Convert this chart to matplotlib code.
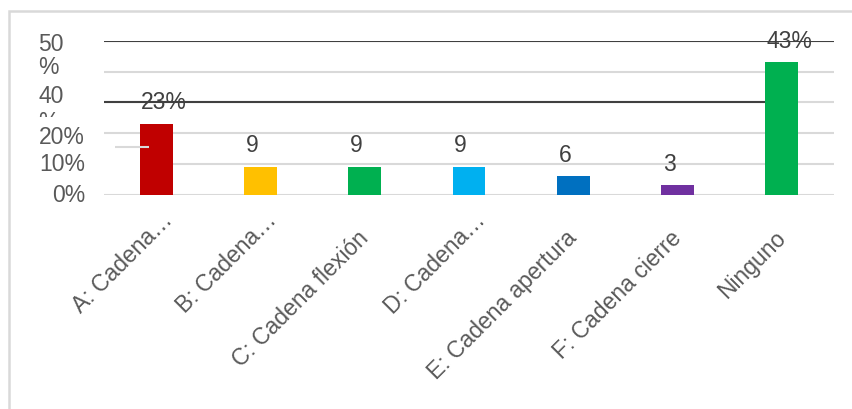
import numpy as np
import matplotlib

matplotlib.use("Agg")
import matplotlib.pyplot as plt
from matplotlib.patches import Rectangle
from matplotlib.transforms import (
    Bbox,
    TransformedBbox,
    ScaledTranslation,
    blended_transform_factory,
)

plt.rcParams["font.family"] = ["Liberation Sans", "DejaVu Sans"]

# Survey answers (percent of respondents)
categories = [
    "A: Cadena…",
    "B: Cadena…",
    "C: Cadena flexión",
    "D: Cadena…",
    "E: Cadena apertura",
    "F: Cadena cierre",
    "Ninguno",
]
values = [23, 9, 9, 9, 6, 3, 43]
value_labels = ["23%", "9", "9", "9", "6", "3", "43%"]
colors = ["#C00000", "#FFC000", "#00B050", "#00B0F0", "#0070C0", "#7030A0", "#00B050"]
grid_levels = [0, 10, 20, 30, 40, 50]
dark_levels = [30, 50]

GRID = "#D9D9D9"
DARK = "#404040"
TEXT = "#595959"
FS = 16.5
PX = 0.72  # points per pixel at 100 dpi

fig = plt.figure(figsize=(8.52, 4.09), dpi=100)
ax = fig.add_axes([104 / 852, 214.5 / 409, 730 / 852, 153.5 / 409])
ax.set_xlim(-0.5, 6.5)
ax.set_ylim(0, 50)
ax.set_xticks([])
ax.set_yticks([])
for s in ax.spines.values():
    s.set_visible(False)

x = np.arange(len(categories))
bar_w = 0.316
ax.bar(x, values, width=bar_w, color=colors, zorder=3)

# light gridlines (the 10% one is broken on the left)
for lv in grid_levels:
    start = bar_w / 2 if lv == 10 else -0.5
    ax.hlines(lv, start, 6.5, color=GRID, lw=1.5, zorder=1)
ax.hlines(15.45, -0.395, -0.068, color=GRID, lw=1.5, zorder=4)

# dark lines at 30% and 50%
for lv in dark_levels:
    end = 6.5 if lv == 50 else x[-1] - bar_w / 2
    ax.hlines(lv, -0.51, end, color=DARK, lw=1.5, zorder=2)

# value labels above the bars
for xi, v, lbl in zip(x, values, value_labels):
    dx = 8 if lbl.endswith("%") else -8.5
    ax.annotate(lbl, (xi, v), xytext=(dx * PX, 14.5 * PX), textcoords="offset points",
                ha="center", va="baseline", fontsize=FS, color=DARK, zorder=5)

# y axis labels, some wrapped onto two lines
ytr = blended_transform_factory(ax.transAxes, ax.transData)
for txt, yv in [("50", 46.6), ("%", 39.1), ("40", 29.8)]:
    ax.text(-0.0904, yv, txt, transform=ytr, ha="left", va="baseline",
            fontsize=FS, color=TEXT)
pct = ax.text(-0.0904, 21.2, "%", transform=ytr, ha="left", va="baseline",
              fontsize=FS, color=TEXT, clip_on=True)
pct.set_clip_box(TransformedBbox(Bbox.from_extents(-0.2, 25.2, 0, 40), ytr))
for txt, yv in [("20%", 16.3), ("10%", 7.5), ("0%", -2.3)]:
    ax.text(-0.026, yv, txt, transform=ytr, ha="right", va="baseline",
            fontsize=FS, color=TEXT)

# rotated category labels, anchored at the end of their baseline
for xi, lbl in zip(x, categories):
    dx, dy = (17.5, -26.5) if lbl.endswith("…") else (5, -45)
    tr = ax.transData + ScaledTranslation(dx * PX / 72, dy * PX / 72,
                                          fig.dpi_scale_trans)
    ax.text(xi, 0, lbl, transform=tr, rotation=45, rotation_mode="anchor",
            ha="right", va="baseline", fontsize=FS, color=TEXT)

# outer chart frame
fig.add_artist(Rectangle((9.3 / 852, -0.5), 2, 0.5 + 397.7 / 409,
                         transform=fig.transFigure, fill=False,
                         edgecolor=GRID, lw=1.8))

fig.savefig("out.png", dpi=100)
